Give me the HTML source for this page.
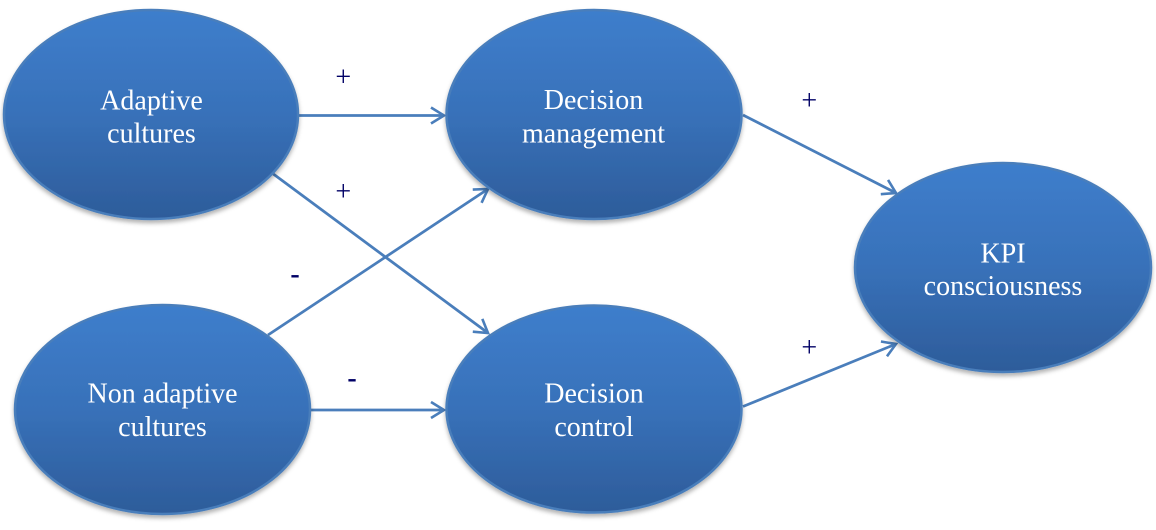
<!DOCTYPE html>
<html>
<head>
<meta charset="utf-8">
<style>
html,body{margin:0;padding:0;background:#fff;}
svg{display:block;}
</style>
</head>
<body>
<svg width="1156" height="530" viewBox="0 0 1156 530" xmlns="http://www.w3.org/2000/svg">
<defs>
<linearGradient id="g" x1="0" y1="0" x2="0" y2="1">
<stop offset="0" stop-color="#3e7ecc"/>
<stop offset="0.5" stop-color="#3871b9"/>
<stop offset="1" stop-color="#2d5c9a"/>
</linearGradient>
<filter id="sh" x="-10%" y="-10%" width="120%" height="125%">
<feDropShadow dx="0" dy="3" stdDeviation="2" flood-color="#000" flood-opacity="0.3"/>
</filter>
<marker id="ah" markerUnits="userSpaceOnUse" markerWidth="20" markerHeight="20" viewBox="-16 -10 18 20" refX="0" refY="0" orient="auto">
<path d="M -13 -8 L 0 0 L -13 8" fill="none" stroke="#4a7ebb" stroke-width="2.6" stroke-linejoin="miter"/>
</marker>
</defs>

<g stroke="#4a7ebb" stroke-width="2.75" fill="none" marker-end="url(#ah)">
<line x1="299" y1="115.5" x2="444" y2="115.5"/>
<line x1="311" y1="410" x2="444" y2="410"/>
<line x1="272" y1="173" x2="488" y2="333"/>
<line x1="268" y1="335" x2="488" y2="189"/>
<line x1="743" y1="115" x2="896" y2="193"/>
<line x1="743" y1="406.5" x2="896" y2="344"/>
</g>

<g fill="url(#g)" stroke="#4a7ebb" stroke-width="2.5" filter="url(#sh)">
<ellipse cx="151" cy="114.5" rx="147" ry="104.5"/>
<ellipse cx="162.5" cy="409.5" rx="147.5" ry="104.5"/>
<ellipse cx="594" cy="114.5" rx="147.5" ry="104.5"/>
<ellipse cx="594" cy="409" rx="147.5" ry="103.5"/>
<ellipse cx="1003" cy="267.5" rx="148" ry="104.5"/>
</g>

<g font-family="'Liberation Serif', 'Times New Roman', serif" font-size="28" fill="#ffffff" text-anchor="middle">
<text x="151.5" y="109.5">Adaptive</text>
<text x="151.5" y="142.7">cultures</text>
<text x="162.5" y="402.3">Non adaptive</text>
<text x="162.5" y="436">cultures</text>
<text x="593.5" y="109">Decision</text>
<text x="593.5" y="142.7">management</text>
<text x="594" y="402.7">Decision</text>
<text x="594" y="436">control</text>
<text x="1003" y="262.3">KPI</text>
<text x="1003" y="295">consciousness</text>
</g>

<g font-family="'Liberation Serif', 'Times New Roman', serif" font-size="28" fill="#000066" text-anchor="middle">
<text x="343.3" y="86">+</text>
<text x="343.3" y="200.3">+</text>
<text x="809.3" y="109.7">+</text>
<text x="809.3" y="356.3">+</text>
<text x="295" y="283" font-weight="bold">-</text>
<text x="352" y="387" font-weight="bold">-</text>
</g>
</svg>
</body>
</html>
